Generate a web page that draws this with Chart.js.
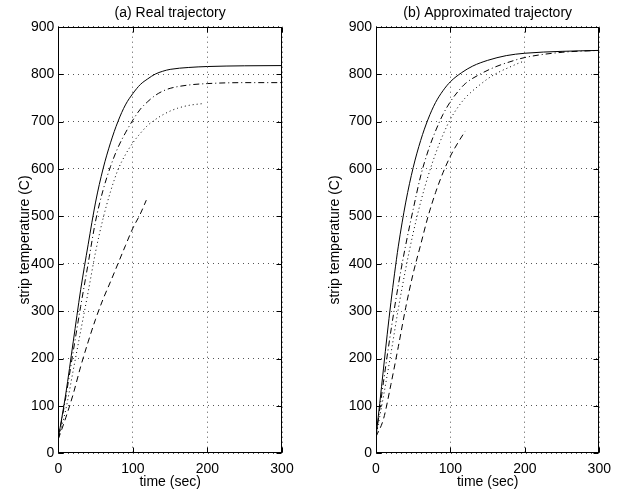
<!DOCTYPE html>
<html>
<head>
<meta charset="utf-8">
<script src="https://cdn.jsdelivr.net/npm/chart.js@4"></script>
<style>
  html, body { margin: 0; padding: 0; background: #fff; }
  #wrap { position: relative; width: 626px; height: 497px; background: #fff; }
  canvas { position: absolute; top: 0; }
</style>
</head>
<body>
<div id="wrap">
  <canvas id="cA" width="313" height="497" style="left:0px;width:313px;height:497px"></canvas>
  <canvas id="cB" width="313" height="497" style="left:313px;width:313px;height:497px"></canvas>
</div>
<script>
// ---- Data ----
const titleA = "(a) Real trajectory";
const titleB = "(b) Approximated trajectory";
const xLabel = "time (sec)";
const yLabel = "strip temperature (C)";
const xTicks = [0, 100, 200, 300];
const yTicks = [0, 100, 200, 300, 400, 500, 600, 700, 800, 900];

// (a) Real trajectory
const realSolidTime = [0,10,20,30,40,50,60,70,80,90,100,110,120,130,140,150,175,200,250,300];
const realSolidTemp = [32,125,235,345,440,530,600,655,700,735,759,778,790,800,806,810,814,816,817.5,818];
const realDashDotTime = [0,10,20,30,40,50,60,70,80,90,100,110,120,130,140,150,175,200,250,300];
const realDashDotTemp = [30,118,215,310,400,490,555,605,645,676,703,726,742,755,764,770,777,780,782,782];
const realDotTime = [0,10,20,30,40,50,60,70,80,90,100,110,120,130,140,150,160,175,195];
const realDotTemp = [30,92,175,258,340,425,495,552,598,630,655,675,692,704,714,722,728,734,738];
const realDashTime = [0,10,20,30,40,50,60,70,80,90,100,110,118];
const realDashTemp = [30,75,125,183,235,283,325,362,400,438,475,505,534];

// (b) Approximated trajectory
const apprSolidTime = [0,5,10,15,20,25,30,40,50,60,70,80,90,100,115,130,150,175,200,250,300];
const apprSolidTemp = [35,105,178,250,318,380,437,530,603,660,705,740,765,784,803,817,829,839,844,848,850];
const apprDashDotTime = [0,10,20,30,40,50,60,70,80,90,100,110,120,140,160,180,200,250,300];
const apprDashDotTemp = [35,150,258,355,440,515,585,638,680,715,742,763,780,800,815,826,835,846,850];
const apprDotTime = [0,10,20,30,40,50,60,70,80,90,100,110,120,130,140,150,160,170,180,190,200];
const apprDotTemp = [35,120,210,305,390,465,530,585,632,672,705,730,750,765,778,790,800,808,815,822,828];
const apprDashTime = [0,10,20,30,40,50,60,70,80,90,100,110,120];
const apprDashTemp = [35,72,145,225,308,380,440,500,550,592,627,655,680];

// ---- helpers ----
const pts = (ts, vs) => ts.map((t, i) => ({ x: t, y: vs[i] }));
const FONT = "'Liberation Sans', Arial, Helvetica, sans-serif";

function ds(ts, vs, dash) {
  return {
    data: pts(ts, vs),
    borderColor: '#000',
    borderWidth: 1,
    borderDash: dash,
    pointRadius: 0,
    fill: false,
    cubicInterpolationMode: 'monotone'
  };
}

// center the title over the plot area (as in the reference)
const titleCenterPlugin = {
  id: 'titleCenter',
  afterLayout(chart) {
    const tb = chart.titleBlock;
    if (tb) {
      tb.left = chart.chartArea.left;
      tb.right = chart.chartArea.right;
      tb.width = tb.right - tb.left;
    }
  }
};

const boxPlugin = {
  id: 'box',
  afterDraw(chart) {
    const ctx = chart.ctx;
    const { left, right, top, bottom } = chart.chartArea;
    const xs = chart.scales.x, ys = chart.scales.y;
    ctx.save();
    ctx.strokeStyle = '#000';
    ctx.lineWidth = 1;
    ctx.setLineDash([]);
    const L = Math.round(left) + 0.5, R = Math.round(right) - 0.5;
    const T = Math.round(top) + 0.5, B = Math.round(bottom) - 0.5;
    ctx.strokeRect(L, T, R - L, B - T);
    ctx.beginPath();
    xs.ticks.forEach(t => {
      const p = Math.round(xs.getPixelForValue(t.value)) + 0.5;
      ctx.moveTo(p, B); ctx.lineTo(p, B - 5);
      ctx.moveTo(p, T); ctx.lineTo(p, T + 5);
    });
    ys.ticks.forEach(t => {
      const p = Math.round(ys.getPixelForValue(t.value)) + 0.5;
      ctx.moveTo(L, p); ctx.lineTo(L + 5, p);
      ctx.moveTo(R, p); ctx.lineTo(R - 5, p);
    });
    ctx.stroke();
    ctx.restore();
  }
};

function makeChart(id, title, datasets, yAxisWidth, rightPad, yTitlePad) {
  return new Chart(document.getElementById(id), {
    type: 'line',
    data: { datasets },
    plugins: [titleCenterPlugin, boxPlugin],
    options: {
      responsive: false,
      maintainAspectRatio: false,
      animation: false,
      layout: { padding: { left: 0, right: rightPad, top: 0, bottom: 0 } },
      plugins: {
        legend: { display: false },
        tooltip: { enabled: false },
        title: {
          display: true,
          text: title,
          color: '#000',
          font: { family: FONT, size: 14, weight: 'normal' },
          padding: { top: 4.5, bottom: 5.4 }
        }
      },
      scales: {
        x: {
          type: 'linear',
          min: 0, max: 300,
          afterBuildTicks: s => { s.ticks = xTicks.map(v => ({ value: v })); },
          afterFit: s => { s.height = 497 - 453.3; },
          ticks: { color: '#000', font: { family: FONT, size: 14 }, padding: 7.5, maxRotation: 0 },
          grid: { color: '#555', lineWidth: 1, drawTicks: false },
          border: { display: false, dash: [1, 4] },
          title: { display: true, text: xLabel, color: '#000', font: { family: FONT, size: 14 }, padding: { top: 0, bottom: 6 } }
        },
        y: {
          type: 'linear',
          min: 0, max: 900,
          afterBuildTicks: s => { s.ticks = yTicks.map(v => ({ value: v })); },
          afterFit: s => { s.width = yAxisWidth; },
          ticks: { color: '#000', font: { family: FONT, size: 14 }, padding: 4 },
          grid: { color: '#555', lineWidth: 1, drawTicks: false },
          border: { display: false, dash: [1, 4] },
          title: { display: true, text: yLabel, color: '#000', font: { family: FONT, size: 14 }, padding: { top: yTitlePad, bottom: 0 } }
        }
      }
    }
  });
}

makeChart('cA', titleA, [
  ds(realSolidTime, realSolidTemp, []),
  ds(realDashDotTime, realDashDotTemp, [6, 3, 1, 3]),
  ds(realDotTime, realDotTemp, [1, 3]),
  ds(realDashTime, realDashTemp, [6, 4])
], 58.3, 313 - 282, 17);

makeChart('cB', titleB, [
  ds(apprSolidTime, apprSolidTemp, []),
  ds(apprDashDotTime, apprDashDotTemp, [6, 3, 1, 3]),
  ds(apprDotTime, apprDotTemp, [1, 3]),
  ds(apprDashTime, apprDashTemp, [6, 4])
], 63, 313 - 286.3, 14);
</script>
</body>
</html>
